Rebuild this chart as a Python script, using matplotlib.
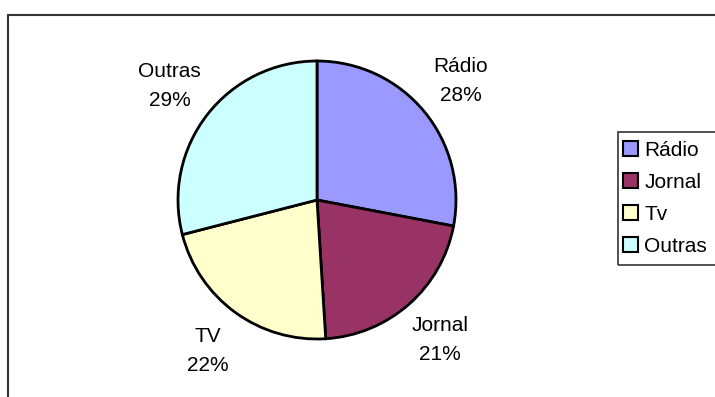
import numpy as np
import matplotlib
matplotlib.use("Agg")
import matplotlib.pyplot as plt
from matplotlib.patches import Patch, Rectangle

plt.rcParams["font.family"] = ["Liberation Sans", "DejaVu Sans"]

# media share
labels = ["Rádio", "Jornal", "TV", "Outras"]
legend_names = ["Rádio", "Jornal", "Tv", "Outras"]
shares = [28, 21, 22, 29]
colors = ["#9999FF", "#993366", "#FFFFCC", "#CCFFFF"]

W, H = 715, 397
fig = plt.figure(figsize=(W / 100, H / 100), dpi=100)

# outer chart frame
fig.patches.append(Rectangle((8 / W, -0.1), 1.1, 1 - 15 / H + 0.1,
                             transform=fig.transFigure, fill=False,
                             edgecolor="#333333", lw=1.5))

cx, cy, r = 317, 200, 139
ax = fig.add_axes([(cx - r) / W, (H - cy - r) / H, 2 * r / W, 2 * r / H])
wedges, _ = ax.pie(shares, colors=colors, startangle=90, counterclock=False,
                   wedgeprops=dict(edgecolor="black", linewidth=2))
ax.set_xlim(-1, 1)
ax.set_ylim(-1, 1)
ax.set_aspect("equal")
ax.axis("off")

total = sum(shares)
for w, lab, v in zip(wedges, labels, shares):
    mid = np.deg2rad((w.theta1 + w.theta2) / 2)
    d = 1.34
    ax.text(d * np.cos(mid), d * np.sin(mid), f"{lab}\n{round(100 * v / total)}%",
            ha="center", va="center", fontsize=15, linespacing=1.65,
            clip_on=False)

# legend box
fig.patches.append(Rectangle((618 / W, 1 - 265 / H), 0.2, 133 / H,
                             transform=fig.transFigure, fill=False,
                             edgecolor="#333333", lw=1.2))
handles = [Patch(facecolor=c, edgecolor="black", lw=1.5) for c in colors]
fig.legend(handles, legend_names, loc="upper left",
           bbox_to_anchor=(623 / W, 1 - 141 / H), frameon=False,
           fontsize=15, handlelength=0.72, handleheight=0.72,
           handletextpad=0.3, labelspacing=0.62, borderpad=0,
           borderaxespad=0)

fig.savefig("out.png", dpi=100, facecolor="white")
